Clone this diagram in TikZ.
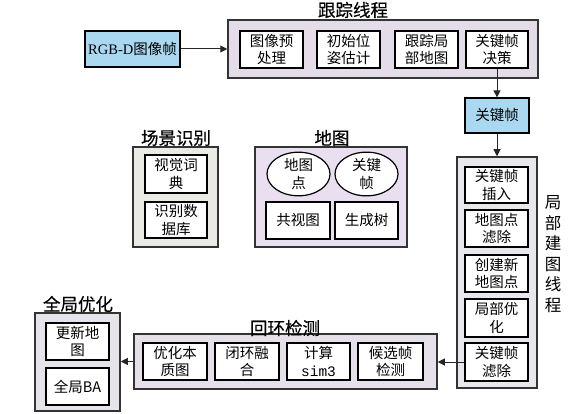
\documentclass[tikz,border=0pt]{standalone}
\usepackage{fontspec}
\setmainfont{Noto Sans CJK SC}
\newfontfamily\serifl{Liberation Serif}
\newfontfamily\monol{Liberation Mono}
\newfontfamily\titlef[FakeBold=0.3]{Noto Sans CJK SC}
\usetikzlibrary{arrows.meta,shapes.geometric}
\definecolor{kblue}{HTML}{A9D8F0}
\definecolor{ctrack}{HTML}{E4DCE8}
\definecolor{clocal}{HTML}{E8E7EC}
\definecolor{cscene}{HTML}{ECEAE4}
\definecolor{cmap}{HTML}{EADFF0}
\definecolor{cglobal}{HTML}{E7E3EB}
\definecolor{cloop}{HTML}{E6E0EA}
\tikzset{
  outer/.style={draw=black!80, line width=1.5pt, inner sep=0pt},
  inbox/.style={draw=black, line width=1.2pt, fill=white, align=center, inner sep=0pt,
    font=\fontsize{14.5}{17.5}\selectfont},
  inell/.style={inbox, ellipse},
  title/.style={font=\titlef\fontsize{17.5}{19}\selectfont, inner sep=0pt},
  arr/.style={-{Triangle[length=7pt,width=7pt]}, line width=1pt, draw=black!85},
}
\newcommand{\bx}[7]{% name, style, x1,y1,x2,y2, text
  \node[#2, minimum width={(#5-#3)*1pt}, minimum height={(#6-#4)*1pt}] (#1) at ({(#3+#5)/2},{(#4+#6)/2}) {#7};}
\begin{document}
\begin{tikzpicture}[x=1pt,y=-1pt]
\useasboundingbox (0,0) rectangle (572,414);
% tracking
\bx{rgb}{inbox,fill=kblue}{85}{31}{180}{67}{{\serifl RGB-D}图像帧}
\bx{track}{outer,fill=ctrack}{228}{20}{538}{78}{}
\node[title] (ttrack) at (353,10) {跟踪线程};
\bx{t1}{inbox}{240}{31}{303}{68}{图像预\\处理}
\bx{t2}{inbox}{317}{31}{380}{68}{初始位\\姿估计}
\bx{t3}{inbox}{395}{31}{458}{68}{跟踪局\\部地图}
\bx{t4}{inbox}{466}{31}{528}{68}{关键帧\\决策}
\bx{kf}{inbox,fill=kblue}{465}{98}{529}{133}{关键帧}
% local mapping
\bx{local}{outer,fill=clocal}{457}{157}{537}{388}{}
\bx{l1}{inbox}{465}{167}{528}{203}{关键帧\\插入}
\bx{l2}{inbox}{465}{210}{528}{247}{地图点\\滤除}
\bx{l3}{inbox}{465}{255}{528}{292}{创建新\\地图点}
\bx{l4}{inbox}{465}{299}{528}{337}{局部优\\化}
\bx{l5}{inbox}{465}{343}{528}{381}{关键帧\\滤除}
\node[title, align=center, font=\fontsize{16.5}{20.5}\selectfont] (tlocal) at (553,254) {局\\部\\建\\图\\线\\程};
% scene recognition
\bx{scene}{outer,fill=cscene}{133}{147}{218}{247}{}
\node[title] (tscene) at (176,138) {场景识别};
\bx{s1}{inbox}{145}{155}{207}{193}{视觉词\\典}
\bx{s2}{inbox}{145}{202}{207}{238}{识别数\\据库}
% map
\bx{map}{outer,fill=cmap}{255}{147}{407}{247}{}
\node[title] (tmap) at (332,138) {地图};
\bx{e1}{inell}{267}{153}{330}{195}{地图\\点}
\bx{e2}{inell}{335}{153}{398}{195}{关键\\帧}
\bx{m1}{inbox}{266}{202}{330}{239}{共视图}
\bx{m2}{inbox}{335}{202}{398}{239}{生成树}
% loop closing
\bx{loop}{outer,fill=cloop}{134}{334}{437}{389}{}
\node[title] (tloop) at (285,328) {回环检测};
\bx{c1}{inbox}{143}{343}{207}{380}{优化本\\质图}
\bx{c2}{inbox}{215}{343}{279}{380}{闭环融\\合}
\bx{c3}{inbox}{287}{343}{350}{380}{计算\\{\monol sim3}}
\bx{c4}{inbox}{358}{343}{423}{380}{候选帧\\检测}
% global
\bx{global}{outer,fill=cglobal}{35}{313}{120}{411}{}
\node[title] (tglobal) at (78,304) {全局优化};
\bx{g1}{inbox}{46}{323}{109}{360}{更新地\\图}
\bx{g2}{inbox}{46}{368}{109}{405}{全局BA}
% arrows
\draw[arr] (rgb.east) -- (rgb.east -| track.west);
\draw[arr] (t4.south) -- (kf.north);
\draw[arr] (kf.south) -- (kf.south |- local.north);
\draw[arr] (l5.west) -- (l5.west -| loop.east);
\draw[arr] (loop.west) -- (loop.west -| global.east);
\end{tikzpicture}
\end{document}
